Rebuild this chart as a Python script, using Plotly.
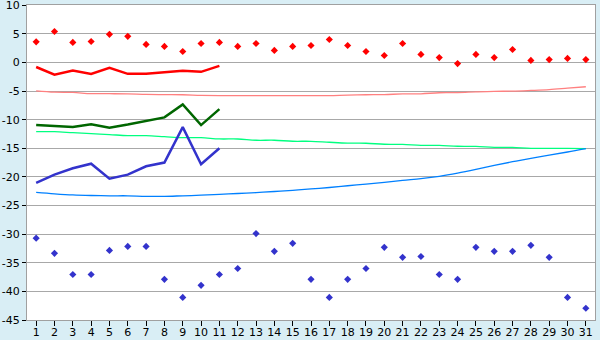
import plotly.graph_objects as go

days = list(range(1, 32))

red_points = [3.6, 5.4, 3.5, 3.65, 4.9, 4.55, 3.15, 2.8, 1.9, 3.3, 3.5, 2.8, 3.3, 2.1, 2.8,
              2.95, 4.0, 2.95, 1.9, 1.2, 3.3, 1.4, 0.85, -0.2, 1.4, 0.85, 2.25, 0.35, 0.5, 0.7, 0.5]
blue_points = [-30.7, -33.35, -37.05, -37.05, -32.85, -32.15, -32.15, -37.9, -41.05, -38.95,
               -37.05, -36.0, -29.9, -33.0, -31.6, -37.9, -41.05, -37.9, -36.0, -32.3,
               -34.05, -33.9, -37.05, -37.9, -32.3, -33.0, -33.0, -31.95, -34.05, -41.05, -42.95]

red_line = [-0.8, -2.15, -1.4, -2.0, -0.95, -2.0, -2.0, -1.7, -1.45, -1.65, -0.6]
green_line = [-10.95, -11.1, -11.3, -10.8, -11.4, -10.85, -10.2, -9.6, -7.35, -10.95, -8.15]
blue_line = [-21.05, -19.6, -18.5, -17.7, -20.3, -19.6, -18.15, -17.5, -11.3, -17.8, -15.0]

pink_trend = [-4.97, -5.2, -5.25, -5.45, -5.47, -5.5, -5.6, -5.63, -5.65, -5.75, -5.8, -5.8,
              -5.8, -5.8, -5.8, -5.8, -5.8, -5.7, -5.65, -5.62, -5.5, -5.48, -5.3, -5.28,
              -5.15, -5.05, -5.02, -4.9, -4.75, -4.5, -4.25]
lightgreen_trend = [-12.09, -12.1, -12.27, -12.44, -12.6, -12.79, -12.8, -12.97, -13.14, -13.15,
                    -13.37, -13.38, -13.6, -13.6, -13.77, -13.78, -13.95, -14.1, -14.12, -14.3,
                    -14.32, -14.48, -14.5, -14.65, -14.67, -14.83, -14.85, -15.0, -15.0, -15.02, -15.05]
lightblue_trend = [-22.7, -22.95, -23.15, -23.25, -23.3, -23.3, -23.4, -23.4, -23.3, -23.2,
                   -23.05, -22.9, -22.75, -22.55, -22.35, -22.1, -21.85, -21.55, -21.25, -20.95,
                   -20.6, -20.3, -19.9, -19.35, -18.7, -18.0, -17.35, -16.75, -16.2, -15.65, -15.05]

y_ticks = [10, 5, 0, -5, -10, -15, -20, -25, -30, -35, -40, -45]
y_tick_labels = ["10", "5", "0", "-5", "-10", "-15", "-20", "-25", "-30", "-35", "-40", "-45"]

fig = go.Figure()

fig.add_trace(go.Scatter(x=days, y=pink_trend, mode="lines",
                         line=dict(color="#FF8080", width=1.3, shape="spline")))
fig.add_trace(go.Scatter(x=days, y=lightgreen_trend, mode="lines",
                         line=dict(color="#00FF80", width=1.3, shape="spline")))
fig.add_trace(go.Scatter(x=days, y=lightblue_trend, mode="lines",
                         line=dict(color="#0080FF", width=1.3, shape="spline")))

fig.add_trace(go.Scatter(x=days[:len(red_line)], y=red_line, mode="lines",
                         line=dict(color="#FF0000", width=2.5)))
fig.add_trace(go.Scatter(x=days[:len(green_line)], y=green_line, mode="lines",
                         line=dict(color="#006600", width=2.5)))
fig.add_trace(go.Scatter(x=days[:len(blue_line)], y=blue_line, mode="lines",
                         line=dict(color="#3333CC", width=2.5)))

fig.add_trace(go.Scatter(x=days, y=red_points, mode="markers",
                         marker=dict(symbol="diamond", size=5.5, color="#FF0000")))
fig.add_trace(go.Scatter(x=days, y=blue_points, mode="markers",
                         marker=dict(symbol="diamond", size=5.5, color="#3333CC")))

fig.update_layout(
    width=600, height=340,
    margin=dict(l=27, r=5, t=5, b=20, autoexpand=False),
    paper_bgcolor="#D9EEF5",
    plot_bgcolor="#FFFFFF",
    showlegend=False,
    font=dict(family="DejaVu Sans", size=11, color="#000000"),
)
fig.update_xaxes(
    range=[0.5, 31.5], tickvals=days, ticktext=[str(d) for d in days],
    showgrid=False, zeroline=False, automargin=False, ticklabeloverflow="allow",
    showline=True, linecolor="#A0A0A0", linewidth=1, mirror=True,
    ticks="outside", ticklen=5, tickcolor="#000000", tickwidth=1,
    ticklabelstandoff=-3,
    tickfont=dict(size=11),
)
fig.update_yaxes(
    range=[-45, 10.03], tickvals=y_ticks, ticktext=y_tick_labels,
    showgrid=True, gridcolor="#A8A8A8", gridwidth=1, zeroline=False, automargin=False,
    ticklabeloverflow="allow",
    showline=True, linecolor="#A0A0A0", linewidth=1, mirror=True,
    ticks="outside", ticklen=4, tickcolor="#000000", tickwidth=1,
    tickfont=dict(size=11),
)

fig.write_html("out.html")
